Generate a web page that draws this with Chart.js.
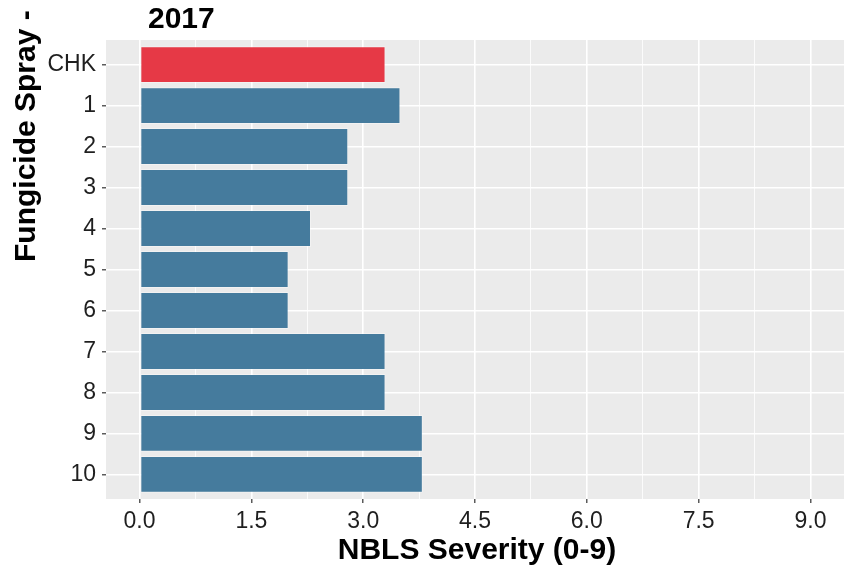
<!DOCTYPE html>
<html>
<head>
<meta charset="utf-8">
<script src="https://cdn.jsdelivr.net/npm/chart.js@4"></script>
<style>
  html, body { margin: 0; padding: 0; background: #ffffff; }
  canvas { display: block; }
</style>
</head>
<body>
<canvas id="c" width="845" height="569"></canvas>
<script>
// ---- data ----
const CATEGORIES = ["CHK", "1", "2", "3", "4", "5", "6", "7", "8", "9", "10"];
const SEVERITY   = [3.3, 3.5, 2.8, 2.8, 2.3, 2.0, 2.0, 3.3, 3.3, 3.8, 3.8];
const MAJOR_TICKS = [0, 1.5, 3.0, 4.5, 6.0, 7.5, 9.0];
const MINOR_TICKS = [0.75, 2.25, 3.75, 5.25, 6.75, 8.25];
const TITLE = "2017";
const X_TITLE = "NBLS Severity (0-9)";
const Y_TITLE = "Fungicide Spray -";

const BAR_COLORS = CATEGORIES.map(c => c === "CHK" ? "#E63946" : "#457B9D");
const FONT = "'Liberation Sans', Arial, Helvetica, sans-serif";
const isMajor = v => MAJOR_TICKS.some(m => Math.abs(m - v) < 1e-6);

const panelBg = {
  id: 'panelBg',
  beforeDraw(chart) {
    const {ctx, chartArea: a} = chart;
    ctx.save();
    ctx.fillStyle = '#EBEBEB';
    ctx.fillRect(a.left, a.top, a.right - a.left, a.bottom - a.top);
    ctx.restore();
  }
};

const titles = {
  id: 'titles',
  afterDraw(chart) {
    const ctx = chart.ctx;
    const a = chart.chartArea;
    ctx.save();
    ctx.fillStyle = '#000000';
    ctx.font = "bold 30px " + FONT;
    ctx.textBaseline = 'alphabetic';
    // main title
    ctx.textAlign = 'left';
    ctx.fillText(TITLE, 148, 28);
    // x axis title
    ctx.textAlign = 'center';
    ctx.fillText(X_TITLE, (a.left + a.right) / 2 + 2, 558.5);
    // y axis title (rotated)
    ctx.translate(34.5, 262);
    ctx.rotate(-Math.PI / 2);
    ctx.textAlign = 'left';
    ctx.fillText(Y_TITLE, 0, 0);
    ctx.restore();
  }
};

new Chart(document.getElementById('c'), {
  type: 'bar',
  data: {
    datasets: [{
      data: SEVERITY.map((v, i) => ({x: v, y: i})),
      backgroundColor: BAR_COLORS,
      borderColor: 'rgba(255,255,255,0.35)',
      borderWidth: 1,
      borderSkipped: false,
      barPercentage: 0.9,
      categoryPercentage: 1.0
    }]
  },
  options: {
    indexAxis: 'y',
    responsive: false,
    animation: false,
    layout: { padding: { top: 40, right: 1, left: 0, bottom: 0 } },
    plugins: {
      legend: { display: false },
      tooltip: { enabled: false },
      title: { display: false }
    },
    scales: {
      x: {
        type: 'linear',
        min: -0.45,
        max: 9.45,
        offset: false,
        afterFit: s => { s.height = 70; },
        afterBuildTicks: s => {
          s.ticks = MAJOR_TICKS.concat(MINOR_TICKS).sort((p, q) => p - q).map(v => ({value: v}));
        },
        border: { display: false },
        grid: {
          offset: false,
          color: '#FFFFFF',
          lineWidth: c => (c.tick && isMajor(c.tick.value)) ? 1.6 : 0.8,
          tickColor: c => (c.tick && isMajor(c.tick.value)) ? '#333333' : 'rgba(0,0,0,0)',
          tickLength: 4,
          tickWidth: 1.2
        },
        ticks: {
          autoSkip: false,
          maxRotation: 0,
          padding: 5,
          color: '#1F1F1F',
          font: { family: FONT, size: 23 },
          callback: v => isMajor(v) ? Number(v).toFixed(1) : ''
        }
      },
      y: {
        type: 'linear',
        min: -0.6,
        max: 10.6,
        reverse: true,
        offset: false,
        afterFit: s => { s.width = 106; },
        afterBuildTicks: s => {
          s.ticks = CATEGORIES.map((_, i) => ({value: i}));
        },
        border: { display: false },
        grid: {
          offset: false,
          color: '#FFFFFF',
          lineWidth: 1.6,
          tickColor: '#333333',
          tickLength: 4,
          tickWidth: 1.2
        },
        ticks: {
          autoSkip: false,
          padding: 6,
          color: '#1F1F1F',
          font: { family: FONT, size: 23 },
          callback: v => CATEGORIES[v] !== undefined ? CATEGORIES[v] : ''
        }
      }
    }
  },
  plugins: [panelBg, titles]
});
</script>
</body>
</html>
